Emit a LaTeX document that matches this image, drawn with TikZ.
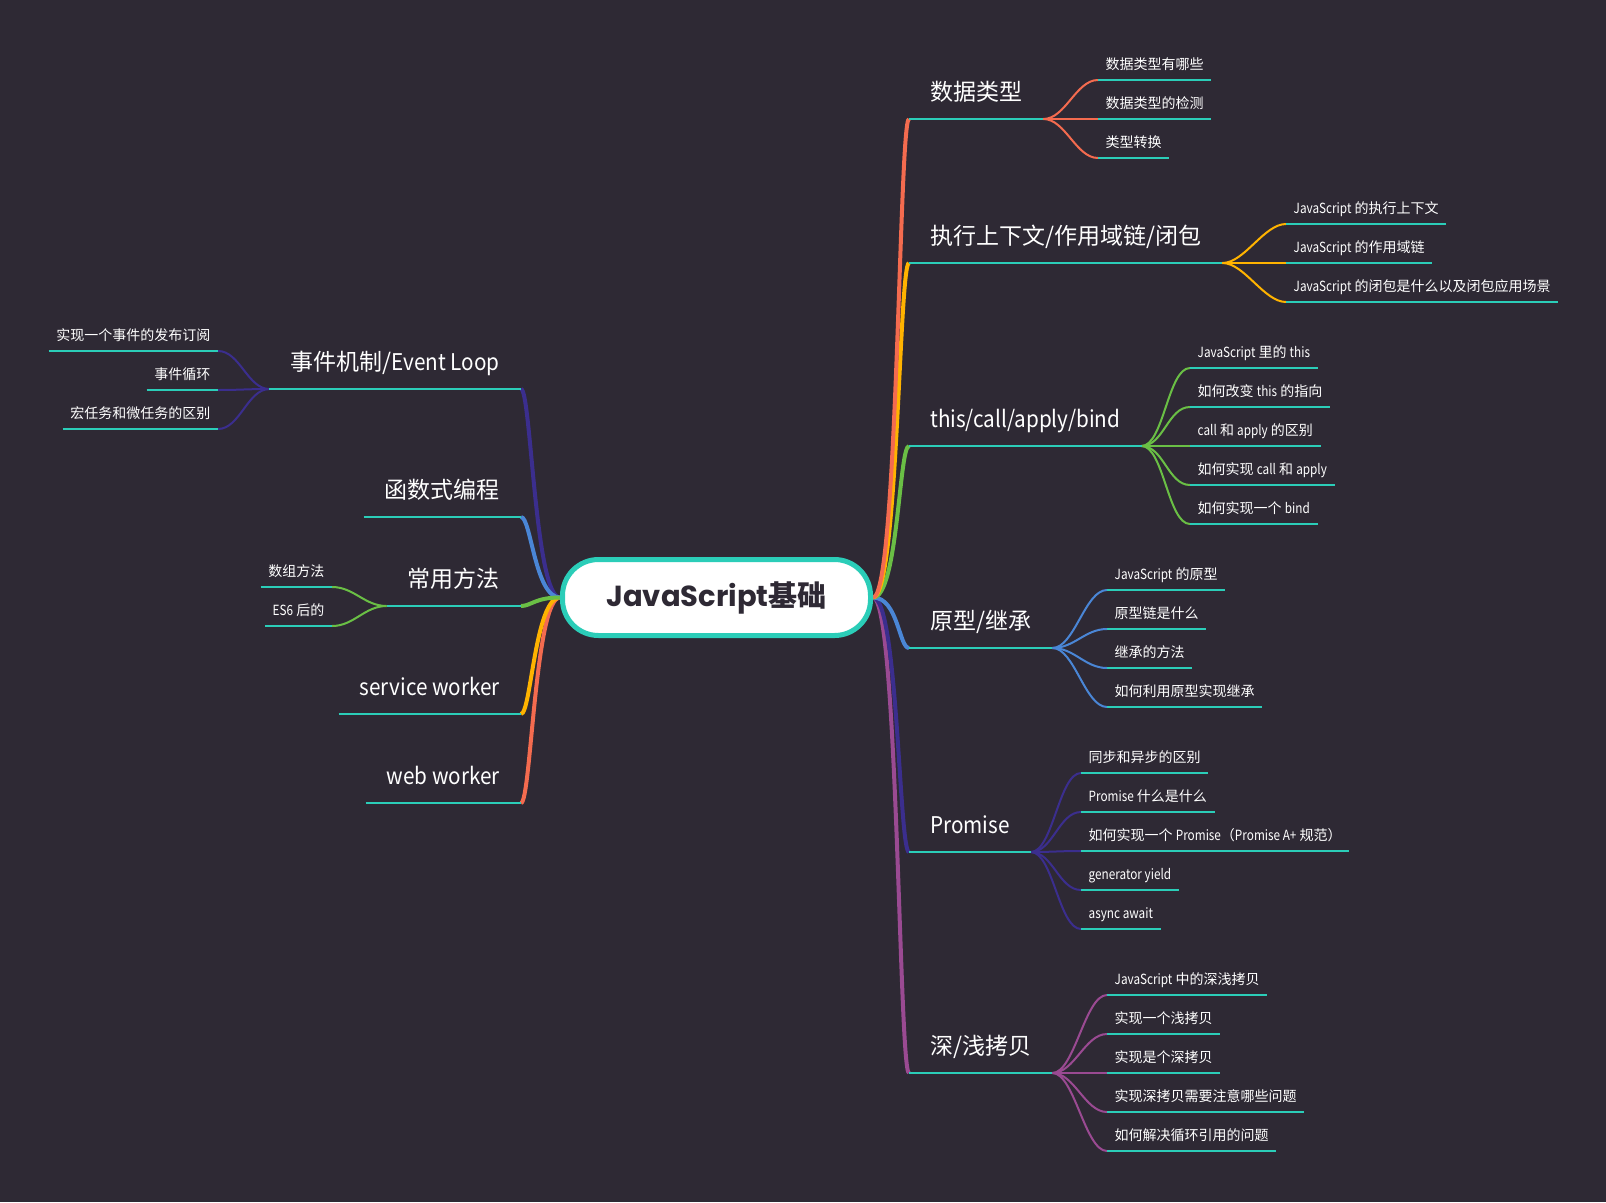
\documentclass[tikz,border=0pt]{standalone}
\usepackage{fontspec}
\setmainfont{Noto Sans CJK SC}
\newfontfamily\titlefont{Poppins}
\newfontfamily\latm{Noto Sans CJK SC}[FakeStretch=0.9]
\newfontfamily\lats{Noto Sans CJK SC}[FakeStretch=0.84]
\newcommand\en[1]{{\enf #1}}
\let\enf\latm
\usetikzlibrary{positioning,backgrounds}
\definecolor{bgdark}{HTML}{2E2934}
\definecolor{inkc}{HTML}{2E2934}
\definecolor{tealln}{HTML}{2BCDB8}
\definecolor{coral}{HTML}{F46B4F}
\definecolor{amber}{HTML}{FFB300}
\definecolor{leaf}{HTML}{6ABF45}
\definecolor{sky}{HTML}{4A86D6}
\definecolor{indigo}{HTML}{3B2E8E}
\definecolor{plum}{HTML}{9A4A92}
\tikzset{
  root/.style={rectangle,rounded corners=36pt,draw=tealln,line width=5pt,
               fill=white,minimum width=308pt,minimum height=76pt,
               font=\titlefont\bfseries\fontsize{29}{32}\selectfont,
               text=inkc,inner sep=0pt},
  topic/.style={font=\fontsize{23}{26}\selectfont\let\enf\latm,text=white,
                inner xsep=21pt,inner ysep=12pt,text height=17pt,text depth=6pt},
  rtopic/.style={topic,anchor=south west},
  ltopic/.style={topic,anchor=south east},
  sub/.style={font=\fontsize{14}{16}\selectfont\let\enf\lats,text=white,
              inner xsep=7.5pt,inner ysep=6pt,text height=11pt,text depth=4pt},
  rsub/.style={sub,anchor=south west},
  lsub/.style={sub,anchor=south east},
  trunk/.style={draw=#1,line width=4pt},
  twig/.style={draw=#1,line width=2pt},
  uline/.style={draw=tealln,line width=2.5pt},
  sline/.style={draw=tealln,line width=1.3pt},
}
\begin{document}
\begin{tikzpicture}[x=1pt,y=-1pt]
  \useasboundingbox (0,0) rectangle (1606,1202);

  %% ── centre ───────────────────────────────────────────────────────────────
  \node[root] (root) at (716.5,597.5) {JavaScript{\rmfamily 基础}};

  %% ── right topics ─────────────────────────────────────────────────────────
  \node[rtopic] (dtype) at (909,119)  {数据类型};
  \node[rtopic] (ctx)   at (909,263)  {执行上下文/作用域链/闭包};
  \node[rtopic] (thisb) at (909,446)  {\en{this/call/apply/bind}};
  \node[rtopic] (proto) at (909,648)  {原型/继承};
  \node[rtopic] (prom)  at (909,852)  {\en{Promise}};
  \node[rtopic] (copy)  at (909,1073) {深/浅拷贝};

  %% ── left topics ──────────────────────────────────────────────────────────
  \node[ltopic] (evl)  at (521,389) {事件机制/\en{Event Loop}};
  \node[ltopic] (func) at (521,517) {函数式编程};
  \node[ltopic] (meth) at (521,606) {常用方法};
  \node[ltopic] (sw)   at (521,714) {\en{service worker}};
  \node[ltopic] (ww)   at (521,803) {\en{web worker}};

  \foreach \n in {dtype,ctx,thisb,proto,prom,copy,evl,func,meth,sw,ww}
    \draw[uline] (\n.south west) -- (\n.south east);

  %% ── subtopics ────────────────────────────────────────────────────────────
  \foreach \t [count=\i] in {数据类型有哪些,数据类型的检测,类型转换}{
    \node[rsub] (dtype\i) at (1098,{41+39*\i}) {\t};
    \draw[sline] (dtype\i.south west) -- (dtype\i.south east);}
  \foreach \t [count=\i] in {\en{JavaScript} 的执行上下文,\en{JavaScript} 的作用域链,
                             \en{JavaScript} 的闭包是什么以及闭包应用场景}{
    \node[rsub] (ctx\i) at (1286,{185+39*\i}) {\t};
    \draw[sline] (ctx\i.south west) -- (ctx\i.south east);}
  \foreach \t [count=\i] in {\en{JavaScript} 里的 \en{this},如何改变 \en{this} 的指向,
                             \en{call} 和 \en{apply} 的区别,如何实现 \en{call} 和 \en{apply},
                             如何实现一个 \en{bind}}{
    \node[rsub] (thisb\i) at (1190,{329+39*\i}) {\t};
    \draw[sline] (thisb\i.south west) -- (thisb\i.south east);}
  \foreach \t [count=\i] in {\en{JavaScript} 的原型,原型链是什么,继承的方法,如何利用原型实现继承}{
    \node[rsub] (proto\i) at (1107,{551+39*\i}) {\t};
    \draw[sline] (proto\i.south west) -- (proto\i.south east);}
  \foreach \t [count=\i] in {同步和异步的区别,\en{Promise} 什么是什么,
                             如何实现一个 \en{Promise}（\en{Promise A+} 规范）,
                             \en{generator yield},\en{async await}}{
    \node[rsub] (prom\i) at (1081,{734+39*\i}) {\t};
    \draw[sline] (prom\i.south west) -- (prom\i.south east);}
  \foreach \t [count=\i] in {\en{JavaScript} 中的深浅拷贝,实现一个浅拷贝,实现是个深拷贝,
                             实现深拷贝需要注意哪些问题,如何解决循环引用的问题}{
    \node[rsub] (copy\i) at (1107,{956+39*\i}) {\t};
    \draw[sline] (copy\i.south west) -- (copy\i.south east);}
  \foreach \t [count=\i] in {实现一个事件的发布订阅,事件循环,宏任务和微任务的区别}{
    \node[lsub] (evl\i) at (218,{312+39*\i}) {\t};
    \draw[sline] (evl\i.south west) -- (evl\i.south east);}
  \foreach \t [count=\i] in {数组方法,\en{ES6} 后的}{
    \node[lsub] (meth\i) at (332,{548+39*\i}) {\t};
    \draw[sline] (meth\i.south west) -- (meth\i.south east);}

  %% ── background and branches ──────────────────────────────────────────────
  \begin{scope}[on background layer]
    \fill[bgdark] (0,0) rectangle (1606,1202);
    \foreach \n/\col in {copy/plum,prom/indigo,proto/sky,thisb/leaf,ctx/amber,dtype/coral}
      \draw[trunk=\col] (root.east) .. controls +(25,0) and +(-10,0) .. (\n.south west);
    \foreach \n/\col in {ww/coral,sw/amber,evl/indigo,func/sky,meth/leaf}
      \draw[trunk=\col] (root.west) .. controls +(-25,0) and +(10,0) .. (\n.south east);

    \foreach \i in {1,2,3}
      \draw[twig=coral] (dtype.south east) .. controls +(22,0) and +(-22,0) .. (dtype\i.south west);
    \foreach \i in {1,2,3}
      \draw[twig=amber] (ctx.south east) .. controls +(22,0) and +(-22,0) .. (ctx\i.south west);
    \foreach \i in {1,...,5}
      \draw[twig=leaf] (thisb.south east) .. controls +(22,0) and +(-22,0) .. (thisb\i.south west);
    \foreach \i in {1,...,4}
      \draw[twig=sky] (proto.south east) .. controls +(22,0) and +(-22,0) .. (proto\i.south west);
    \foreach \i in {1,...,5}
      \draw[twig=indigo] (prom.south east) .. controls +(22,0) and +(-22,0) .. (prom\i.south west);
    \foreach \i in {1,...,5}
      \draw[twig=plum] (copy.south east) .. controls +(22,0) and +(-22,0) .. (copy\i.south west);
    \foreach \i in {1,2,3}
      \draw[twig=indigo] (evl.south west) .. controls +(-22,0) and +(22,0) .. (evl\i.south east);
    \foreach \i in {1,2}
      \draw[twig=leaf] (meth.south west) .. controls +(-22,0) and +(22,0) .. (meth\i.south east);
  \end{scope}

\end{tikzpicture}
\end{document}
